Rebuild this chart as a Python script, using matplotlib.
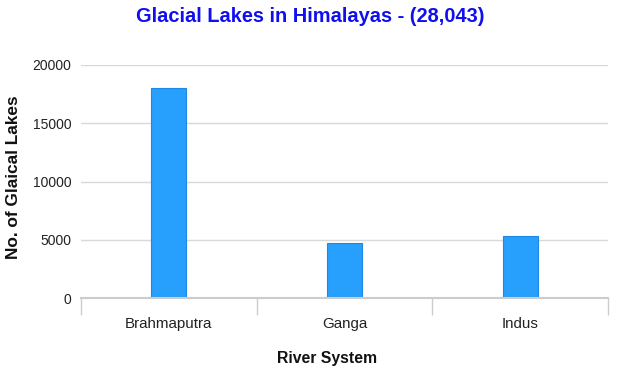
import matplotlib
matplotlib.use("Agg")
import matplotlib.pyplot as plt
from matplotlib.ticker import FixedLocator

categories = ["Brahmaputra", "Ganga", "Indus"]
lakes = [18001, 4707, 5335]
yticks = [0, 5000, 10000, 15000, 20000]

plt.rcParams['font.family'] = ['Liberation Sans', 'DejaVu Sans']

W, H = 619, 371
fig = plt.figure(figsize=(W / 100, H / 100), dpi=100)
ax = fig.add_axes([81 / W, 1 - 298 / H, (608 - 81) / W, (298 - 65) / H])

x = list(range(len(categories)))
ax.bar(x, lakes, width=0.2, color="#26a0fc", edgecolor="#1e88e5", linewidth=0.8, zorder=3)

ax.set_xlim(-0.5, len(categories) - 0.5)
ax.set_ylim(0, 20000)
ax.set_yticks(yticks)
ax.set_yticklabels([str(v) for v in yticks], fontsize=10, color="#222222")
ax.set_xticks(x)
ax.set_xticklabels(categories, fontsize=10.9, color="#222222")
ax.xaxis.set_minor_locator(FixedLocator([i - 0.5 for i in range(len(categories) + 1)]))
ax.tick_params(axis="x", which="major", length=0, pad=14)
ax.tick_params(axis="x", which="minor", length=12, color="#cccccc", width=1)
ax.tick_params(axis="y", length=0, pad=7)

ax.grid(axis="y", color="#d9d9d9", linewidth=1, zorder=0)
for s in ["top", "right", "left"]:
    ax.spines[s].set_visible(False)
ax.spines["bottom"].set_color("#cccccc")
ax.spines["bottom"].set_linewidth(1.5)
ax.spines["bottom"].set_zorder(4)

fig.text(310 / W, 1 - 16 / H, "Glacial Lakes in Himalayas - (28,043)", ha="center", va="center",
         fontsize=14.4, fontweight="bold", color="#1010ee")
fig.text(14 / W, 1 - 177 / H, "No. of Glaical Lakes", ha="center", va="center", rotation=90,
         fontsize=12.4, fontweight="bold", color="#111111")
fig.text(327 / W, 1 - 359 / H, "River System", ha="center", va="center",
         fontsize=11.3, fontweight="bold", color="#111111")

fig.savefig("out.png", dpi=100)
